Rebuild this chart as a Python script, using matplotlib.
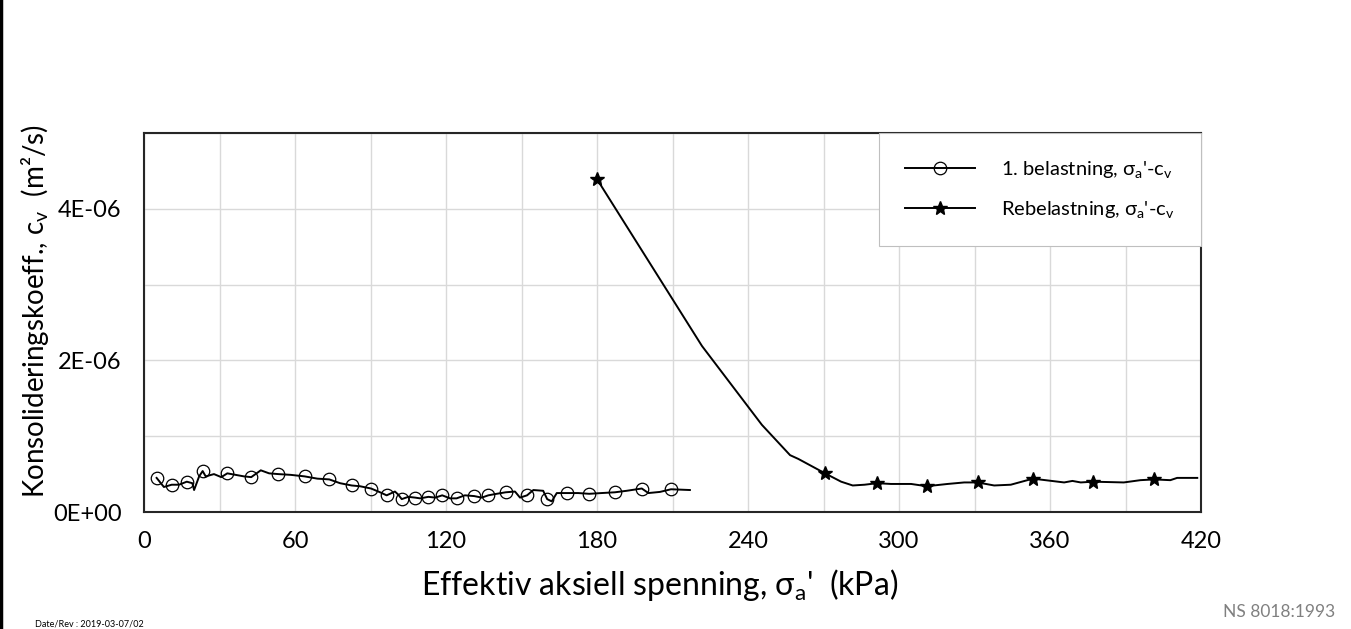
import matplotlib
matplotlib.use('Agg')
import matplotlib.pyplot as plt
from matplotlib.ticker import MultipleLocator, FuncFormatter

plt.rcParams['font.family'] = ['Lato', 'DejaVu Sans']
plt.rcParams['mathtext.fontset'] = 'custom'
plt.rcParams['mathtext.rm'] = 'Lato'

# 1. belastning (first loading) - line points, cv in 1E-06 m2/s
load1_x = [5.0, 7.9, 11.0, 13.9, 17.0, 19.2, 19.9, 21.9, 23.3, 24.5, 27.8, 30.7,
           33.1, 36.4, 39.7, 42.6, 46.4, 49.7, 53.4, 58.3, 63.8, 68.9, 73.6,
           77.9, 82.5, 85.8, 90.2, 93.8, 96.4, 99.7, 101.0, 102.4, 105.0, 107.7,
           109.7, 113.0, 115.7, 118.5, 121.6, 124.2, 127.5, 131.2, 134.2, 136.8,
           140.1, 143.7, 147.4, 149.4, 152.2, 154.7, 158.6, 160.2, 162.0, 164.0,
           167.9, 172.5, 176.9, 181.8, 187.1, 191.8, 197.8, 200.4, 205.0, 209.4,
           216.9]
load1_cv = [0.45, 0.33, 0.36, 0.36, 0.40, 0.38, 0.29, 0.47, 0.54, 0.47, 0.50, 0.46,
            0.51, 0.49, 0.47, 0.46, 0.55, 0.51, 0.50, 0.49, 0.47, 0.44, 0.43,
            0.38, 0.35, 0.34, 0.31, 0.26, 0.22, 0.27, 0.23, 0.17, 0.20, 0.19,
            0.18, 0.20, 0.19, 0.22, 0.18, 0.18, 0.22, 0.21, 0.19, 0.22,
            0.24, 0.26, 0.27, 0.19, 0.22, 0.29, 0.28, 0.17, 0.14, 0.25,
            0.25, 0.25, 0.24, 0.25, 0.26, 0.28, 0.31, 0.25, 0.265, 0.30,
            0.29]
load1_marks = [5.0, 11.0, 17.0, 23.3, 33.1, 42.6, 53.4, 63.8, 73.6, 82.5, 90.2,
               96.4, 102.4, 107.7, 113.0, 118.5, 124.2, 131.2, 136.8, 143.7,
               152.2, 160.2, 167.9, 176.9, 187.1, 197.8, 209.4]

# Rebelastning (reloading)
reload_x = [180.0, 221.7, 245.5, 256.7, 260.0, 270.6, 277.0, 281.6, 286.3, 291.3,
            296.8, 304.8, 311.0, 319.3, 325.9, 331.2, 337.8, 344.4, 353.2, 365.6,
            368.9, 372.2, 377.1, 389.3, 395.9, 401.4, 407.8, 410.5, 418.5]
reload_cv = [4.39, 2.19, 1.15, 0.75, 0.70, 0.51, 0.40, 0.35, 0.36, 0.38,
             0.37, 0.37, 0.34, 0.37, 0.39, 0.39, 0.35, 0.36, 0.44, 0.39,
             0.41, 0.39, 0.40, 0.39, 0.42, 0.43, 0.42, 0.45, 0.45]
reload_marks = [180.0, 270.6, 291.3, 311.0, 331.2, 353.2, 377.1, 401.4]

fig = plt.figure(figsize=(13.51, 6.29), dpi=100)
ax = fig.add_axes([0.1066, 0.186, 0.7824, 0.6026])

ax.plot(load1_x, [v * 1e-6 for v in load1_cv], color='black', linewidth=1.4,
        marker='o', markersize=9, markerfacecolor='none', markeredgecolor='black',
        markeredgewidth=0.9, markevery=[load1_x.index(m) for m in load1_marks],
        label=r"1. belastning, $\mathregular{\sigma_a}$'-$\mathregular{c_v}$")
ax.plot(reload_x, [v * 1e-6 for v in reload_cv], color='black', linewidth=1.4,
        marker='*', markersize=10, markerfacecolor='black', markeredgecolor='black',
        markevery=[reload_x.index(m) for m in reload_marks],
        label=r"Rebelastning, $\mathregular{\sigma_a}$'-$\mathregular{c_v}$")

ax.set_xlim(0, 420)
ax.set_ylim(0, 5e-6)
ax.xaxis.set_major_locator(MultipleLocator(60))
ax.xaxis.set_minor_locator(MultipleLocator(30))
ax.yaxis.set_major_locator(MultipleLocator(2e-6))
ax.yaxis.set_minor_locator(MultipleLocator(1e-6))
ax.yaxis.set_major_formatter(FuncFormatter(lambda v, p: f"{v:.0E}"))
ax.grid(True, which='both', color='#d9d9d9', linewidth=1.0)
ax.set_axisbelow(True)
ax.tick_params(which='both', length=0, labelsize=17)
ax.tick_params(axis='x', pad=14)
ax.tick_params(axis='y', pad=16)
for s in ax.spines.values():
    s.set_linewidth(1.5)
    s.set_color('#262626')

ax.set_xlabel(r"Effektiv aksiell spenning, $\mathregular{\sigma_a}$'  (kPa)", fontsize=23)
ax.set_ylabel(r"Konsolideringskoeff., $\mathregular{c_v}$  (m²/s)", fontsize=20)
ax.xaxis.set_label_coords(0.488, -0.193)
ax.yaxis.set_label_coords(-0.103, 0.53)
ax.xaxis.label.set_va('center')
ax.yaxis.label.set_va('center')

leg = ax.legend(loc='upper right', bbox_to_anchor=(1.0, 1.0), borderaxespad=0,
                fontsize=14.5, handlelength=3.5, handletextpad=1.3, labelspacing=0.95,
                borderpad=1.3, fancybox=False, framealpha=1, edgecolor='#bfbfbf')
leg.get_frame().set_linewidth(0.8)

fig.text(0.026, 0.001, "Date/Rev : 2019-03-07/02", fontsize=6.5, ha='left', va='bottom')
fig.text(0.988, 0.027, "NS 8018:1993", fontsize=12.5, color='#808080', ha='right', va='center')
fig.add_artist(plt.Line2D([0.001, 0.001], [0, 1], color='black', linewidth=2.5,
                          transform=fig.transFigure))

fig.savefig('out.png', dpi=100)
